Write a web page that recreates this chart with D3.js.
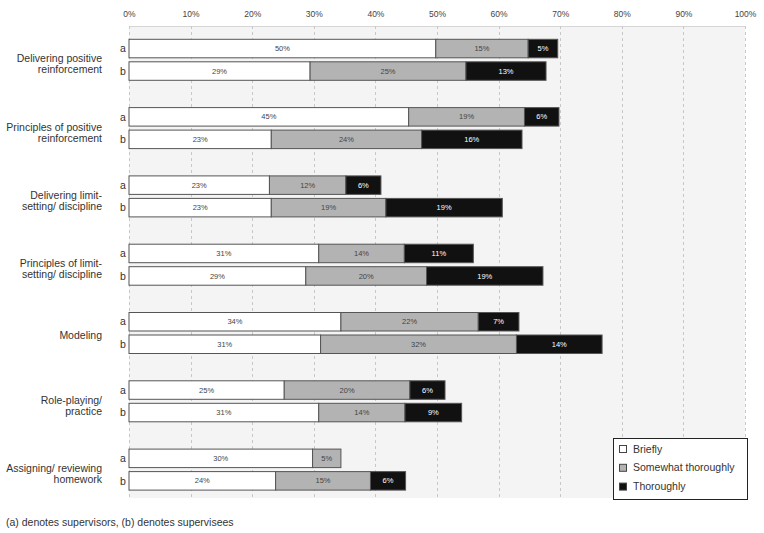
<!DOCTYPE html>
<html>
<head>
<meta charset="utf-8">
<script src="https://cdn.jsdelivr.net/npm/d3@7"></script>
<style>
  html, body { margin: 0; padding: 0; background: #fff; }
  svg { display: block; font-family: "Liberation Sans", Arial, sans-serif; }
</style>
</head>
<body>
<svg id="chart" width="764" height="533"></svg>
<script>
// ---- data ----
const categories = [
  ["Delivering positive", "reinforcement"],
  ["Principles of positive", "reinforcement"],
  ["Delivering limit-", "setting/ discipline"],
  ["Principles of limit-", "setting/ discipline"],
  ["Modeling"],
  ["Role-playing/", "practice"],
  ["Assigning/ reviewing", "homework"]
];
const groups = ["a", "b"];
const seriesNames = ["Briefly", "Somewhat thoroughly", "Thoroughly"];
// values per category: [a, b], each in %
const briefly    = [[49.8, 29.4], [45.4, 23.1], [22.8, 23.1], [30.8, 28.7], [34.4, 31.1], [25.2, 30.8], [29.8, 23.8]];
const somewhat   = [[15.0, 25.3], [18.8, 24.4], [12.4, 18.6], [13.9, 19.6], [22.3, 31.8], [20.4, 14.0], [4.6, 15.4]];
const thoroughly = [[4.8, 13.0],  [5.6, 16.3],  [5.7, 18.9],  [11.2, 18.9], [6.6, 13.9],  [5.7, 9.2],   [0, 5.7]];
const xTicks = [0, 10, 20, 30, 40, 50, 60, 70, 80, 90, 100];
const footnote = "(a) denotes supervisors, (b) denotes supervisees";

const fills = ["#ffffff", "#b3b3b3", "#111111"];
const textFills = ["#444", "#444", "#ffffff"];

// ---- scales ----
const svg = d3.select("#chart");
const plot = { left: 129, right: 745, top: 26, bottom: 498 };
const x = d3.scaleLinear().domain([0, 100]).range([plot.left, plot.right]);
const catIdx = d3.range(categories.length);
const y = d3.scaleBand().domain(catIdx).range([28.4, 28.4 + 68.3 * categories.length]).padding(0);
const yInner = d3.scaleBand().domain(groups).range([10.9, 51.9]).paddingInner(0.178).paddingOuter(0);

// background
svg.append("rect")
  .attr("x", plot.left).attr("y", plot.top)
  .attr("width", plot.right - plot.left).attr("height", plot.bottom - plot.top)
  .attr("fill", "#f4f4f4");
svg.append("line")
  .attr("x1", plot.left).attr("x2", plot.right)
  .attr("y1", plot.top + 0.5).attr("y2", plot.top + 0.5)
  .attr("stroke", "#d6d6d6");

// gridlines
svg.append("g").selectAll("line").data(xTicks).join("line")
  .attr("x1", d => Math.round(x(d)) + 0.5).attr("x2", d => Math.round(x(d)) + 0.5)
  .attr("y1", plot.top).attr("y2", plot.bottom)
  .attr("stroke", "#c8c8c8").attr("stroke-dasharray", "3,3");

// top axis
const axis = svg.append("g")
  .attr("transform", `translate(0,${plot.top - 9})`)
  .call(d3.axisTop(x).tickValues(xTicks).tickFormat(d => d + "%").tickSize(0).tickPadding(0));
axis.select(".domain").remove();
axis.selectAll("text")
  .attr("font-family", "'Liberation Sans', Arial, sans-serif")
  .attr("font-size", "8.5px").attr("fill", "#444");

// bars
const rows = [];
catIdx.forEach(i => {
  groups.forEach((g, gi) => {
    const vals = [briefly[i][gi], somewhat[i][gi], thoroughly[i][gi]];
    let acc = 0;
    vals.forEach((v, s) => {
      rows.push({ cat: i, grp: g, s, x0: acc, x1: acc + v, v });
      acc += v;
    });
  });
});
const barG = svg.append("g");
const segs = rows.filter(r => r.v > 0);
barG.selectAll("rect").data(segs).join("rect")
  .attr("x", d => x(d.x0))
  .attr("y", d => y(d.cat) + yInner(d.grp))
  .attr("width", d => x(d.x1) - x(d.x0))
  .attr("height", yInner.bandwidth())
  .attr("fill", d => fills[d.s])
  .attr("stroke", "#555").attr("stroke-width", 1);
barG.selectAll("text").data(segs).join("text")
  .attr("x", d => (x(d.x0) + x(d.x1)) / 2)
  .attr("y", d => y(d.cat) + yInner(d.grp) + yInner.bandwidth() / 2)
  .attr("dy", "0.35em")
  .attr("text-anchor", "middle")
  .attr("font-size", "7.5px")
  .attr("fill", d => textFills[d.s])
  .text(d => Math.round(d.v) + "%");

// a/b labels
const abG = svg.append("g");
catIdx.forEach(i => {
  groups.forEach(g => {
    abG.append("text")
      .attr("x", 123).attr("y", y(i) + yInner(g) + yInner.bandwidth() / 2)
      .attr("dy", "0.35em").attr("text-anchor", "middle")
      .attr("font-size", "10.5px").attr("fill", "#333")
      .text(g);
  });
});

// category labels
const catG = svg.append("g");
catIdx.forEach(i => {
  const lines = categories[i];
  const cy = y(i) + y.bandwidth() / 2 + (lines.length > 1 ? 1.5 : 0);
  const lh = 11;
  const t = catG.append("text")
    .attr("text-anchor", "end").attr("font-size", "10.5px").attr("fill", "#333");
  lines.forEach((ln, k) => {
    t.append("tspan")
      .attr("x", 102)
      .attr("y", cy + (k - (lines.length - 1) / 2) * lh)
      .attr("dy", "0.35em")
      .text(ln);
  });
});

// legend
const lg = svg.append("g");
lg.append("rect")
  .attr("x", 613.5).attr("y", 438.5).attr("width", 134).attr("height", 61)
  .attr("fill", "#fff").attr("stroke", "#222");
seriesNames.forEach((name, s) => {
  const cy = 449 + s * 18.8;
  lg.append("rect")
    .attr("x", 619.5).attr("y", cy - 3.5).attr("width", 7).attr("height", 7)
    .attr("fill", fills[s]).attr("stroke", "#444");
  lg.append("text")
    .attr("x", 633).attr("y", cy).attr("dy", "0.35em")
    .attr("font-size", "10.5px").attr("fill", "#333")
    .text(name);
});

// footnote
svg.append("text")
  .attr("x", 6).attr("y", 522).attr("dy", "0.35em")
  .attr("font-size", "10.5px").attr("fill", "#333")
  .text(footnote);
</script>
</body>
</html>
